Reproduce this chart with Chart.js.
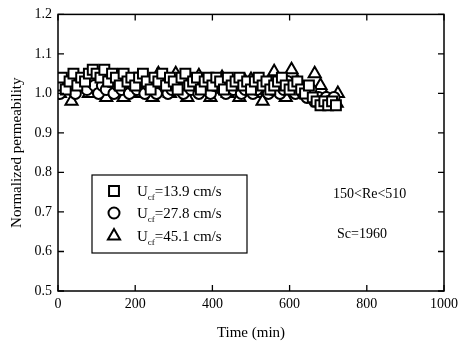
<!DOCTYPE html>
<html><head><meta charset="utf-8">
<script src="https://cdn.jsdelivr.net/npm/chart.js@4.4.1/dist/chart.umd.min.js"></script>
<style>html,body{margin:0;padding:0;background:#fff;}#wrap{position:relative;width:463px;height:346px;}</style>
</head><body><div id="wrap"><canvas id="c" width="463" height="346"></canvas></div>
<script>
const xTicks = [0, 200, 400, 600, 800, 1000];
const yTicks = [0.5, 0.6, 0.7, 0.8, 0.9, 1.0, 1.1, 1.2];
const seriesLabels = ['13.9 cm/s', '27.8 cm/s', '45.1 cm/s'];

const timeSquare = [0,10,20,30,40,50,60,70,80,90,100,110,120,130,140,150,160,170,180,190,200,210,220,230,240,250,260,270,280,290,300,310,320,330,340,350,360,370,380,390,400,410,420,430,440,450,460,470,480,490,500,510,520,530,540,550,560,570,580,590,600,610,620,630,640,650,660,670,680,690,700,710,720];
const permSquare = [1.02,1.04,1.01,1.03,1.05,1.02,1.04,1.03,1.05,1.06,
  1.05,1.04,1.06,1.03,1.05,1.04,1.02,1.05,1.03,1.04,
  1.02,1.04,1.05,1.03,1.01,1.04,1.03,1.05,1.02,1.04,
  1.03,1.01,1.04,1.05,1.02,1.03,1.04,1.01,1.03,1.04,
  1.02,1.04,1.03,1.01,1.04,1.02,1.03,1.04,1.02,1.03,
  1.01,1.03,1.04,1.02,1.03,1.01,1.02,1.03,1.04,1.02,
  1.01,1.02,1.03,1.01,1.00,1.02,0.99,0.98,0.97,0.98,
  0.97,0.98,0.97];

const timeCircle = [5,15,25,35,45,55,65,75,85,95,105,115,125,135,145,155,165,175,185,195,205,215,225,235,245,255,265,275,285,295,305,315,325,335,345,355,365,375,385,395,405,415,425,435,445,455,465,475,485,495,505,515,525,535,545,555,565,575,585,595,605,615,625,635,645,655,665,675,685,695,705,715];
const permCircle = [1.00,1.02,1.03,1.01,1.00,1.03,1.02,1.01,1.03,1.02,
  1.00,1.02,1.01,1.03,1.00,1.02,1.01,1.03,1.00,1.02,
  1.01,1.03,1.00,1.02,1.01,1.00,1.03,1.02,1.00,1.01,
  1.03,1.01,1.00,1.02,1.01,1.03,1.00,1.02,1.01,1.00,
  1.02,1.03,1.01,1.00,1.02,1.01,1.03,1.00,1.01,1.02,
  1.00,1.01,1.03,1.02,1.00,1.01,1.02,1.00,1.01,1.03,
  1.01,1.00,1.02,1.00,0.99,1.01,0.98,0.99,0.98,0.99,
  0.98,0.99];

const timeTriangle = [5,20,35,50,65,80,95,110,125,140,155,170,185,200,215,230,245,260,275,290,305,320,335,350,365,380,395,410,425,440,455,470,485,500,515,530,545,560,575,590,605,620,635,650,665,680,695,710,725,722];
const permTriangle = [1.00,1.03,0.98,1.02,1.03,1.00,1.02,1.04,0.99,1.02,1.03,0.99,1.02,1.03,1.00,1.02,0.99,1.05,1.02,1.00,1.05,1.03,0.99,1.02,1.045,1.01,0.99,1.03,1.04,1.00,1.02,0.99,1.03,1.035,1.00,0.98,1.02,1.055,1.01,0.99,1.06,1.03,1.01,1.00,1.05,1.02,0.99,0.98,1.00,0.975];

function pts(xs, ys){ return xs.map((x,i)=>({x:x, y:ys[i]})); }

const FONT = "'Liberation Serif', 'DejaVu Serif', serif";

const frame = {
  id: 'frame',
  afterDraw(chart){
    const ctx = chart.ctx, a = chart.chartArea, xs = chart.scales.x, ys = chart.scales.y;
    ctx.save();
    ctx.strokeStyle = '#000'; ctx.lineWidth = 1.5;
    ctx.strokeRect(a.left, a.top, a.right - a.left, a.bottom - a.top);
    ctx.lineWidth = 1.3;
    const L = 6;
    xTicks.forEach(v => {
      const px = xs.getPixelForValue(v);
      ctx.beginPath(); ctx.moveTo(px, a.bottom); ctx.lineTo(px, a.bottom - L);
      ctx.moveTo(px, a.top); ctx.lineTo(px, a.top + L); ctx.stroke();
    });
    yTicks.forEach(v => {
      const py = ys.getPixelForValue(v);
      ctx.beginPath(); ctx.moveTo(a.left, py); ctx.lineTo(a.left + L, py);
      ctx.moveTo(a.right, py); ctx.lineTo(a.right - L, py); ctx.stroke();
    });
    // legend box
    const bx = 92, by = 175, bw = 155, bh = 78;
    ctx.fillStyle = '#fff';
    ctx.fillRect(bx, by, bw, bh);
    ctx.lineWidth = 1.2;
    ctx.strokeRect(bx, by, bw, bh);
    const styles = ['rect', 'circle', 'triangle'];
    const radii = [7, 5.5, 7];
    const rowsY = [191, 213, 236];
    styles.forEach((s, i) => {
      ctx.strokeStyle = '#000'; ctx.fillStyle = '#fff'; ctx.lineWidth = 2;
      Chart.helpers.drawPoint(ctx, {pointStyle: s, radius: radii[i], borderWidth: 2}, 114, rowsY[i]);
      ctx.fillStyle = '#000';
      ctx.font = '15px ' + FONT;
      ctx.textBaseline = 'alphabetic'; ctx.textAlign = 'left';
      let x = 137;
      ctx.fillText('U', x, rowsY[i] + 5);
      x += ctx.measureText('U').width;
      ctx.font = '9px ' + FONT;
      ctx.fillText('cf', x, rowsY[i] + 9);
      x += ctx.measureText('cf').width;
      ctx.font = '15px ' + FONT;
      ctx.fillText('=' + seriesLabels[i], x, rowsY[i] + 5);
    });
    ctx.font = '14px ' + FONT;
    ctx.fillText('150<Re<510', 333, 198);
    ctx.fillText('Sc=1960', 337, 238);
    ctx.restore();
  }
};

const common = {borderColor:'#000', backgroundColor:'#fff', borderWidth:2, showLine:false};

new Chart(document.getElementById('c'), {
  type: 'scatter',
  data: { datasets: [
    Object.assign({label:'U_cf=' + seriesLabels[0], data: pts(timeSquare, permSquare), pointStyle:'rect', pointRadius:7, pointHoverRadius:7}, common),
    Object.assign({label:'U_cf=' + seriesLabels[1], data: pts(timeCircle, permCircle), pointStyle:'circle', pointRadius:5.5, pointHoverRadius:5.5}, common),
    Object.assign({label:'U_cf=' + seriesLabels[2], data: pts(timeTriangle, permTriangle), pointStyle:'triangle', pointRadius:7, pointHoverRadius:7}, common)
  ]},
  options: {
    responsive:false, animation:false, devicePixelRatio:1,
    layout:{padding:{left:4, right:18, top:14, bottom:0}},
    plugins:{legend:{display:false}, tooltip:{enabled:false}},
    scales:{
      x:{type:'linear', min:0, max:1000,
         afterBuildTicks: s => { s.ticks = xTicks.map(v=>({value:v})); },
         afterFit: s => { s.height = 55; },
         grid:{display:false, drawTicks:false}, border:{display:false},
         ticks:{color:'#000', font:{family:FONT, size:14}, padding:5, maxRotation:0, callback: v => String(v)},
         title:{display:true, text:'Time (min)', color:'#000', font:{family:FONT, size:15}, padding:{top:2}}},
      y:{type:'linear', min:0.5, max:1.2,
         afterBuildTicks: s => { s.ticks = yTicks.map(v=>({value:v})); },
         afterFit: s => { s.width = 54; },
         grid:{display:false, drawTicks:false}, border:{display:false},
         ticks:{color:'#000', font:{family:FONT, size:14}, padding:6, callback: v => Number(v).toFixed(1)},
         title:{display:true, text:'Normalized permeability', color:'#000', font:{family:FONT, size:15}, padding:{bottom:2}}}
    }
  },
  plugins:[frame]
});
</script></body></html>
